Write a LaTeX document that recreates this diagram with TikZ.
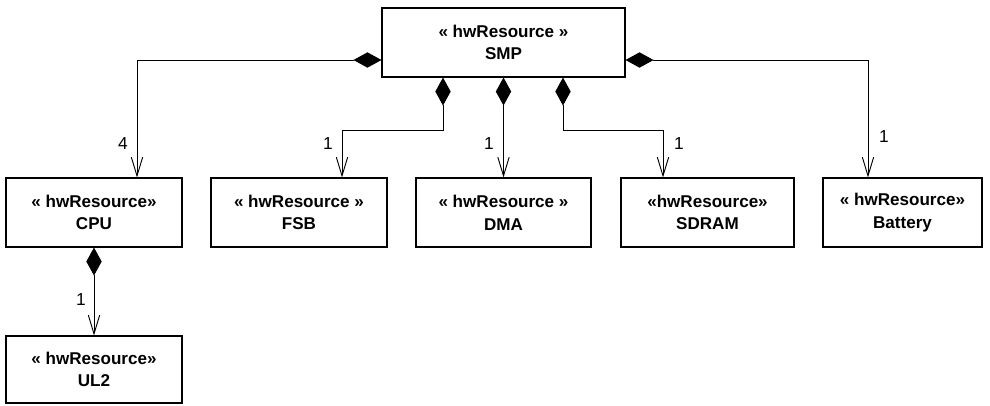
\documentclass[tikz,border=0pt]{standalone}
\usepackage{fontspec}
\setmainfont{Liberation Sans}
\usetikzlibrary{arrows.meta,calc}
\begin{document}
\begin{tikzpicture}[x=0.75pt,y=-0.75pt,
  box/.style={draw, line width=0.8pt, rectangle, inner sep=0pt, align=center,
    font=\bfseries\fontsize{12.8}{17}\selectfont, minimum height=51.75pt},
  comp/.style={line width=0.7pt, {Diamond[length=21pt,width=11.5pt]}-{Straight Barb[length=14pt,width=8.5pt,line width=0.7pt]}},
  mult/.style={font=\fontsize{13}{15}\selectfont, inner sep=0pt}
]
\useasboundingbox (0,0) rectangle (990,405);

\node[box, minimum width=182.25pt] (SMP) at (503.5,42.5) {« hwResource »\\SMP};
\node[box, minimum width=132pt] (CPU) at (94,212.5) {« hwResource»\\CPU};
\node[box, minimum width=132pt] (FSB) at (299,212.5) {« hwResource »\\FSB};
\node[box, minimum width=131.25pt] (DMA) at (503.5,212.5) {« hwResource »\\DMA};
\node[box, minimum width=129.75pt] (SDRAM) at (707.5,212.5) {«hwResource»\\SDRAM};
\node[box, minimum width=119.25pt] (Battery) at (902.5,212.5) {« hwResource»\\Battery};
\node[box, minimum width=132pt, minimum height=50.25pt] (UL2) at (94,369.5) {« hwResource»\\UL2};

\draw[comp] ($(SMP.west)+(0,17.5)$) -| ($(CPU.north)+(43,0)$);
\draw[comp] ($(SMP.south)+(-60.5,0)$) -- ++(0,53) -| ($(FSB.north)+(43,0)$);
\draw[comp] (SMP.south) -- (DMA.north);
\draw[comp] ($(SMP.south)+(59.5,0)$) -- ++(0,53) -| ($(SDRAM.north)+(-44.5,0)$);
\draw[comp] ($(SMP.east)+(0,17.5)$) -| ($(Battery.north)+(-34.5,0)$);
\draw[comp] (CPU.south) -- (UL2.north);

\node[mult] (m1) at (123,144) {4};
\node[mult] (m2) at (328,144) {1};
\node[mult] (m3) at (489,144) {1};
\node[mult] (m4) at (679,144) {1};
\node[mult] (m5) at (884,137) {1};
\node[mult] (m6) at (81,300) {1};
\end{tikzpicture}
\end{document}
